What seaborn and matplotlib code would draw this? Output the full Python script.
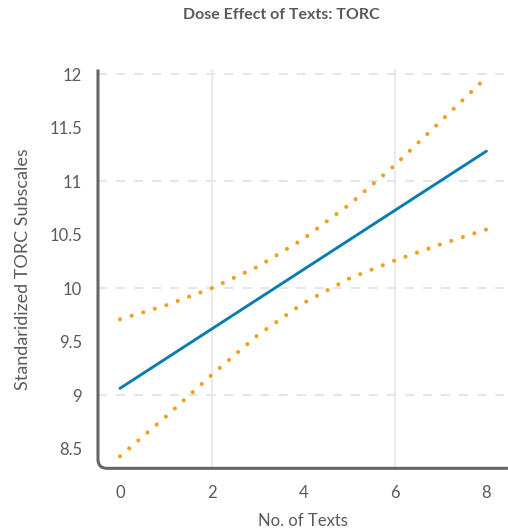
import matplotlib
matplotlib.use("Agg")
import matplotlib.pyplot as plt
from matplotlib.ticker import MultipleLocator, FixedLocator, FormatStrFormatter
from matplotlib.path import Path
from matplotlib.patches import PathPatch
import seaborn as sns
import pandas as pd

# ---- data ----
texts = [0, 1, 2, 3, 4, 5, 6, 7, 8]
fit = [9.065, 9.342, 9.619, 9.896, 10.173, 10.450, 10.727, 11.004, 11.281]
upper = [9.71, 9.84, 10.00, 10.20, 10.46, 10.78, 11.15, 11.56, 11.97]
lower = [8.43, 8.80, 9.19, 9.56, 9.86, 10.09, 10.26, 10.41, 10.55]
x_ticks = [0, 2, 4, 6, 8]
y_ticks = [8.5, 9, 9.5, 10, 10.5, 11, 11.5, 12]

title = "Dose Effect of Texts: TORC"
xlabel = "No. of Texts"
ylabel = "Standaridized TORC Subscales"

df = pd.DataFrame({"texts": texts, "fit": fit, "upper": upper, "lower": lower})

sns.set_theme(style="white")
plt.rcParams["font.family"] = ["Lato", "DejaVu Sans"]

fig = plt.figure(figsize=(5.08, 5.29), dpi=100)
ax = fig.add_axes([0.1929, 0.1147, 0.807, 0.754])

blue = "#0a7db0"
orange = "#eea122"
text_col = "#5a5a5a"

sns.lineplot(data=df, x="texts", y="upper", ax=ax, color=orange, lw=3.0,
             linestyle=(0, (0.01, 2.9)), dash_capstyle="round")
sns.lineplot(data=df, x="texts", y="lower", ax=ax, color=orange, lw=3.0,
             linestyle=(0, (0.01, 2.9)), dash_capstyle="round")
sns.lineplot(data=df, x="texts", y="fit", ax=ax, color=blue, lw=2.1)
for l in ax.lines:
    l.set_dash_capstyle("round")

ax.set_xlim(-0.48, 8.47)
ax.set_ylim(8.318, 12.044)

ax.xaxis.set_major_locator(FixedLocator(x_ticks))
ax.yaxis.set_major_locator(FixedLocator(y_ticks))
ax.yaxis.set_major_formatter(FormatStrFormatter("%g"))
ax.yaxis.set_minor_locator(MultipleLocator(1))
ax.xaxis.set_minor_locator(FixedLocator([2, 6]))
ax.xaxis.remove_overlapping_locs = False
ax.yaxis.remove_overlapping_locs = False

ax.grid(False)
ax.grid(which="minor", axis="y", color="#e3e3e3", lw=1.3, linestyle=(0, (5, 5)))
ax.grid(which="minor", axis="x", color="#e8e8e8", lw=1.3, linestyle="-")
ax.set_axisbelow(True)

ax.tick_params(axis="both", which="minor", length=0)
ax.tick_params(axis="y", which="major", direction="inout", length=17, width=1.0,
               color="#e3e3e3", labelsize=12, labelcolor=text_col, pad=3)
ax.tick_params(axis="x", which="major", direction="inout", length=14, width=1.0,
               color="#e3e3e3", labelsize=12, labelcolor=text_col, pad=5)

for s in ax.spines.values():
    s.set_visible(False)

# rounded L-shaped axis frame
rx, ry = 9 / 410, 9 / 399
verts = [(0, 1), (0, ry), (0, 0), (rx, 0), (1, 0)]
codes = [Path.MOVETO, Path.LINETO, Path.CURVE3, Path.CURVE3, Path.LINETO]
frame = PathPatch(Path(verts, codes), transform=ax.transAxes, fill=False,
                  edgecolor="#666666", lw=2.2, clip_on=False, capstyle="butt")
ax.add_patch(frame)

ax.set_xlabel(xlabel, fontsize=12, color=text_col, labelpad=9)
ax.set_ylabel(ylabel, fontsize=13, color=text_col, labelpad=13)

fig.text(0.553, 0.972, title, ha="center", va="center", fontsize=11.5,
         fontweight="bold", color=text_col)

fig.savefig("out.png", dpi=100)
